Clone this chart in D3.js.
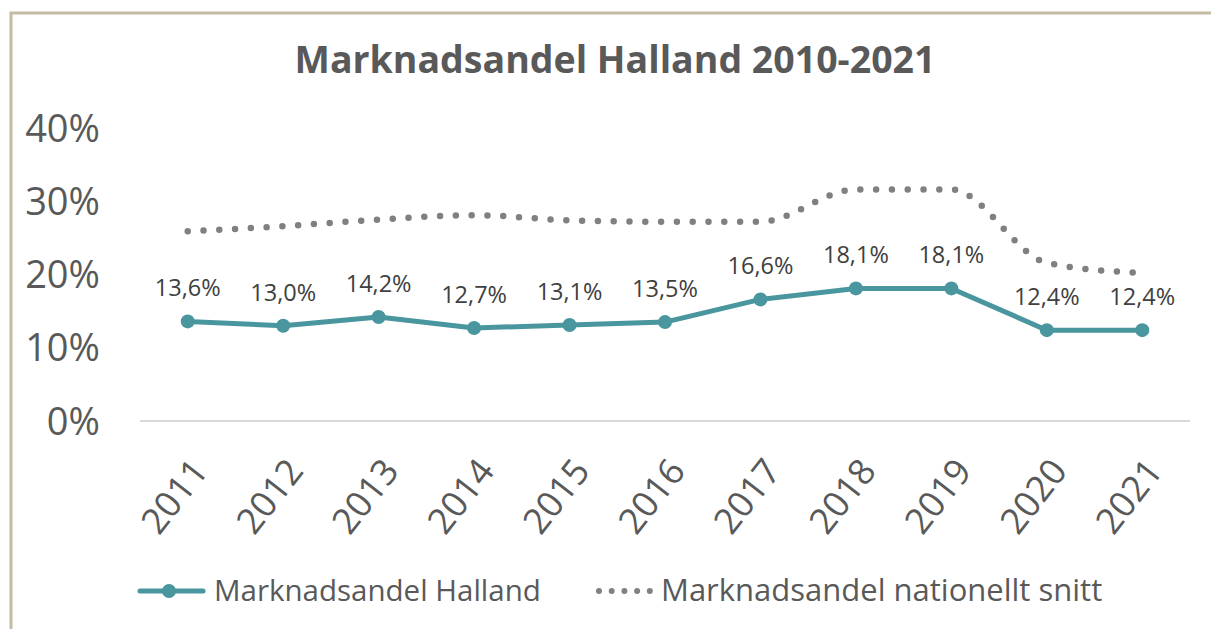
<!DOCTYPE html>
<html>
<head>
<meta charset="utf-8">
<script src="https://cdn.jsdelivr.net/npm/d3@7"></script>
<style>
  body { margin: 0; background: #fff; }
  svg { display: block; font-family: "Open Sans", sans-serif; }
</style>
</head>
<body>
<svg id="svg" width="1211" height="629"></svg>
<script>
const years = ['2011','2012','2013','2014','2015','2016','2017','2018','2019','2020','2021'];
const halland = [13.6, 13.0, 14.2, 12.7, 13.1, 13.5, 16.6, 18.1, 18.1, 12.4, 12.4];
const national = [25.9, 26.6, 27.5, 28.1, 27.4, 27.2, 27.2, 31.6, 31.6, 21.6, 20.2];
const yTicks = [0, 10, 20, 30, 40];
const title = 'Marknadsandel Halland 2010-2021';
const seriesNames = ['Marknadsandel Halland', 'Marknadsandel nationellt snitt'];

const svg = d3.select('#svg');
const teal = '#4a969e';
const grey = '#808080';

// frame
svg.append('path')
    .attr('d', 'M11,629 L11,13 L1211,13')
    .attr('fill', 'none')
    .attr('stroke', '#c4bca5')
    .attr('stroke-width', 3);

svg.append('text')
    .attr('x', 615).attr('y', 73)
    .attr('text-anchor', 'middle')
    .attr('font-size', 37.5).attr('font-weight', 700)
    .attr('fill', '#595959')
    .text(title);

const xScale = d3.scalePoint().domain(years).range([140, 1190]).padding(0.5);
const yScale = d3.scaleLinear().domain([0, 40]).range([421, 128]);

// y axis labels
svg.append('g').selectAll('text').data(yTicks).enter()
    .append('text')
    .attr('x', 100)
    .attr('y', d => yScale(d))
    .attr('dy', '0.36em')
    .attr('text-anchor', 'end')
    .attr('font-size', 38)
    .attr('fill', '#595959')
    .text(d => d + '%');

// baseline
svg.append('line')
    .attr('x1', 140).attr('x2', 1190)
    .attr('y1', yScale(0)).attr('y2', yScale(0))
    .attr('stroke', '#d9d9d9').attr('stroke-width', 2);

// x axis labels
svg.append('g').selectAll('text').data(years).enter()
    .append('text')
    .attr('transform', d => 'translate(' + (xScale(d) + 2) + ',456) rotate(-52)')
    .attr('text-anchor', 'end')
    .attr('dy', '0.7em')
    .attr('font-size', 36)
    .attr('fill', '#595959')
    .text(d => d);

// national average, dotted smooth line
const natLine = d3.line()
    .x((d, i) => xScale(years[i]))
    .y(d => yScale(d))
    .curve(d3.curveMonotoneX);

svg.append('path')
    .datum(national)
    .attr('d', natLine)
    .attr('fill', 'none')
    .attr('stroke', grey)
    .attr('stroke-width', 6.5)
    .attr('stroke-linecap', 'round')
    .attr('stroke-dasharray', '0 15.8');

// halland line
const hLine = d3.line()
    .x((d, i) => xScale(years[i]))
    .y(d => yScale(d));

svg.append('path')
    .datum(halland)
    .attr('d', hLine)
    .attr('fill', 'none')
    .attr('stroke', teal)
    .attr('stroke-width', 5)
    .attr('stroke-linejoin', 'round');

svg.append('g').selectAll('circle').data(halland).enter()
    .append('circle')
    .attr('cx', (d, i) => xScale(years[i]))
    .attr('cy', d => yScale(d))
    .attr('r', 7)
    .attr('fill', teal);

svg.append('g').selectAll('text').data(halland).enter()
    .append('text')
    .attr('x', (d, i) => xScale(years[i]))
    .attr('y', d => yScale(d) - 25)
    .attr('text-anchor', 'middle')
    .attr('font-size', 23.5)
    .attr('fill', '#404040')
    .text(d => d.toFixed(1).replace('.', ',') + '%');

// legend
const leg = svg.append('g');
leg.append('line')
    .attr('x1', 140).attr('x2', 203).attr('y1', 591).attr('y2', 591)
    .attr('stroke', teal).attr('stroke-width', 5).attr('stroke-linecap', 'round');
leg.append('circle').attr('cx', 169).attr('cy', 591).attr('r', 7).attr('fill', teal);
leg.append('text')
    .attr('x', 214).attr('y', 601)
    .attr('font-size', 29.5).attr('fill', '#595959')
    .text(seriesNames[0]);

leg.append('line')
    .attr('x1', 599).attr('x2', 652).attr('y1', 591).attr('y2', 591)
    .attr('stroke', grey).attr('stroke-width', 6)
    .attr('stroke-linecap', 'round')
    .attr('stroke-dasharray', '0 12.7');
leg.append('text')
    .attr('x', 661).attr('y', 601)
    .attr('font-size', 31).attr('fill', '#595959')
    .text(seriesNames[1]);
</script>
</body>
</html>
